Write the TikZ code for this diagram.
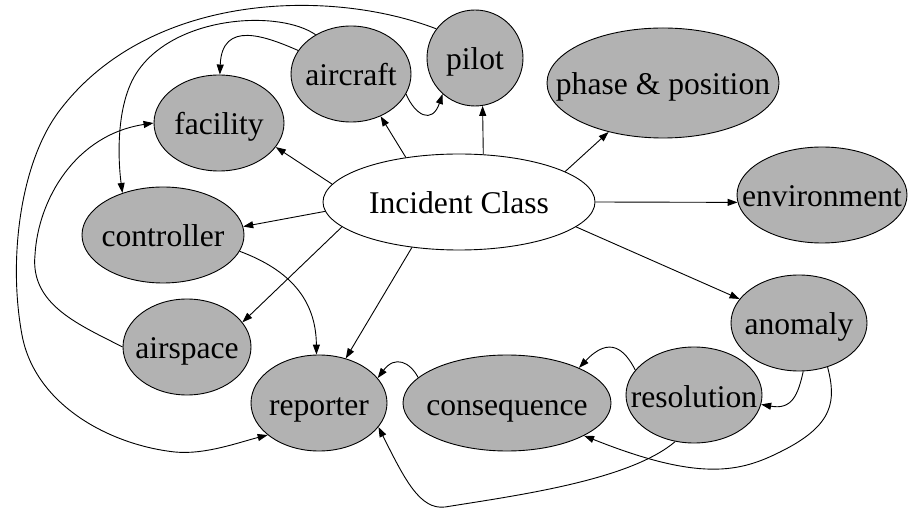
\documentclass[tikz,border=0pt]{standalone}
\usepackage{fontspec}
\setmainfont{Liberation Serif}
\usetikzlibrary{shapes.geometric,arrows.meta}
\definecolor{attrgray}{gray}{0.7}
\newcommand{\lbl}[1]{\makebox[0pt]{#1}}

\begin{document}
\begin{tikzpicture}[x=1pt, y=-1pt, line width=0.9pt,
    font=\fontsize{31.6}{38}\selectfont,
    attr/.style={ellipse, draw, fill=attrgray, inner sep=0pt, minimum height=96pt,
                 text height=24pt, text depth=0pt},
    link/.style={-{Triangle[length=10pt,width=7pt]}}]

\useasboundingbox (0,0) rectangle (910,510);

% the class in the middle
\node[attr, fill=white, minimum width=272pt] (inc) at (459,202) {\lbl{Incident Class}};

% attributes
\node[attr, minimum width=96pt] (pilot) at (475,58) {\lbl{pilot}};
\node[attr, minimum width=120pt] (aircraft) at (351,74) {\lbl{aircraft}};
\node[attr, minimum width=130pt] (facility) at (219,123) {\lbl{facility}};
\node[attr, minimum width=162pt] (controller) at (163,235) {\lbl{controller}};
\node[attr, minimum width=232pt, minimum height=110pt] (phase) at (663,83) {\lbl{phase \& position}};
\node[attr, minimum width=170pt] (environment) at (822,195) {\lbl{environment}};
\node[attr, minimum width=128pt] (airspace) at (187,347) {\lbl{airspace}};
\node[attr, minimum width=136pt] (reporter) at (319,403) {\lbl{reporter}};
\node[attr, minimum width=208pt] (consequence) at (507,403) {\lbl{consequence}};
\node[attr, minimum width=136pt] (resolution) at (694,395) {\lbl{resolution}};
\node[attr, minimum width=136pt] (anomaly) at (799,323) {\lbl{anomaly}};

% straight links out of the class
\draw[link] (inc.140) -- (aircraft.-55);
\draw[link] (inc.63) -- (pilot.-81);
\draw[link] (inc.16) -- (phase.222);
\draw[link] (inc.0) -- (environment.185);
\draw[link] (inc.-12) -- (anomaly.158);
\draw[link] (inc.172.5) -- (facility.-23);
\draw[link] (inc.184) -- (controller.6);
\draw[link] (inc.192.6) -- (airspace.24);
\draw[link] (inc.224) -- (reporter.59);

% curved links between attributes
\draw[link] (aircraft.156) .. controls (265,36) and (222,20) .. (facility.89);
\draw[link] (aircraft.-20) .. controls (415,115) and (432,125) .. (pilot.228);
\draw[link] (aircraft.132) .. controls (280,10) and (180,15) .. (140,68)
    .. controls (115,100) and (118,160) .. (controller.134);
\draw[link] (pilot.143) .. controls (330,-12) and (150,-8) .. (60,110)
    .. controls (20,162) and (8,260) .. (22,335)
    .. controls (35,405) and (110,445) .. (175,452)
    .. controls (205,455) and (240,442) .. (reporter.212);
\draw[link] (airspace.180) .. controls (80,325) and (30,305) .. (35,255)
    .. controls (38,200) and (75,135) .. (facility.180);
\draw[link] (controller.-12) .. controls (290,270) and (316,300) .. (reporter.93);
\draw[link] (consequence.164) .. controls (410,362) and (395,355) .. (reporter.23);
\draw[link] (resolution.157) .. controls (625,350) and (610,335) .. (consequence.26);
\draw[link] (anomaly.-85) .. controls (798,395) and (792,410) .. (resolution.-8);
\draw[link] (anomaly.-57) .. controls (836,400) and (835,425) .. (780,452)
    .. controls (740,472) and (700,482) .. (consequence.-23);
\draw[link] (resolution.-112) .. controls (630,480) and (520,495) .. (445,507)
    .. controls (420,510) and (405,480) .. (reporter.-22);
\end{tikzpicture}
\end{document}
